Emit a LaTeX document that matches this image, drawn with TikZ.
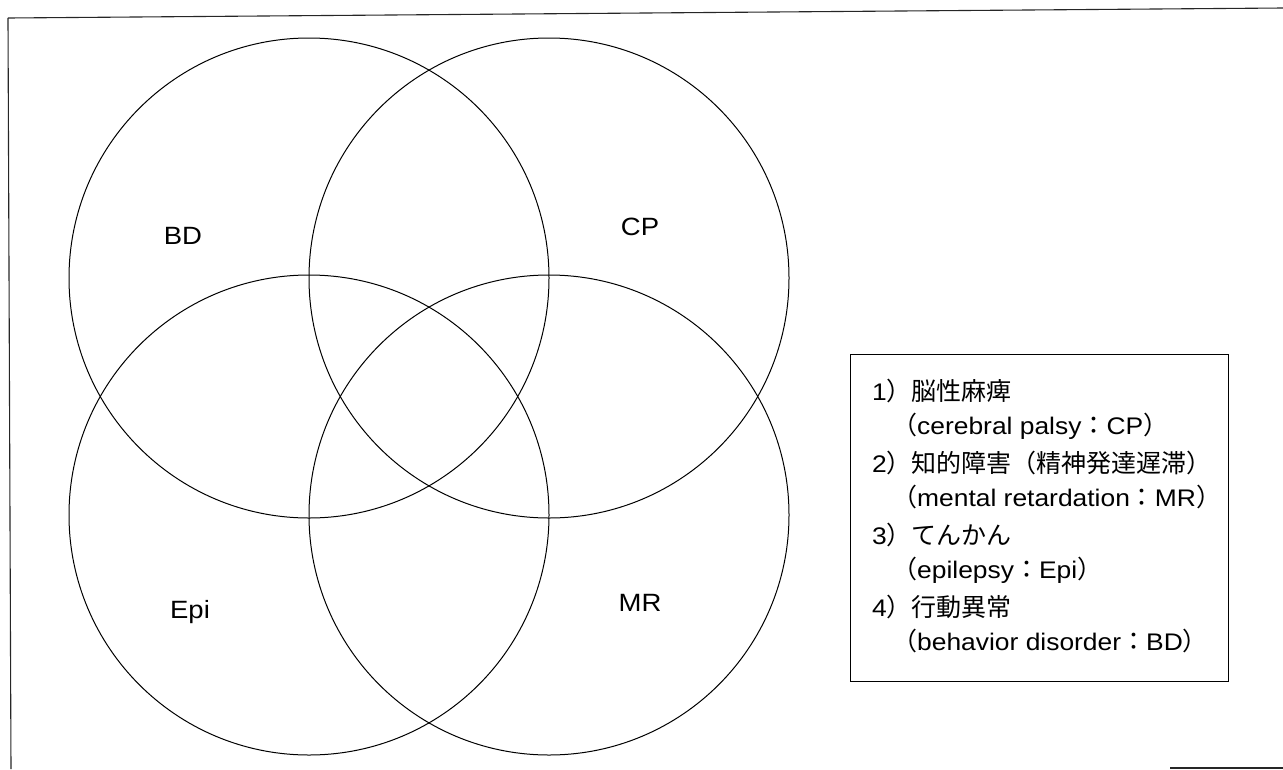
\documentclass[tikz,border=0pt]{standalone}
\usepackage{fontspec}
\setmainfont{Liberation Sans}[FakeStretch=1.1]
\newfontfamily\jp{Noto Sans CJK JP}
\begin{document}
\begin{tikzpicture}[x=1pt,y=-1pt,
  setc/.style={draw=black, line width=1pt, circle, minimum size=480pt, inner sep=0pt},
  setlabel/.style={font=\fontsize{25}{28}\selectfont},
  legtext/.style={anchor=base west, inner sep=0pt, font=\fontsize{24}{26}\selectfont},
  jpt/.style={font=\fontsize{25}{26}\selectfont\jp},
  frameline/.style={line width=1.1pt, draw=black!85}]
\useasboundingbox (0,0) rectangle (1283,769);
% frame
\coordinate (f1) at (8,18);
\coordinate (f2) at (1283,8);
\coordinate (f3) at (11,769);
\coordinate (f4) at (1170,768);
\coordinate (f5) at (1283,768);
\draw[frameline] (f1) -- (f2);
\draw[frameline] (f1) -- (f3);
\draw[frameline] (f4) -- (f5);
% circles
\node[setc] (bd) at (309,278) {};
\node[setc] (cp) at (549,278) {};
\node[setc] (epi) at (309,515) {};
\node[setc] (mr) at (549,515) {};
% labels
\node[setlabel] (lbd) at (183,236) {BD};
\node[setlabel] (lcp) at (640,227) {CP};
\node[setlabel] (lepi) at (190,612) {Epi};
\node[setlabel] (lmr) at (640,603) {MR};
% legend
\newcommand{\J}[1]{{\fontsize{25}{26}\selectfont\jp #1}}
\node[draw=black, line width=1pt, minimum width=378pt, minimum height=327pt, anchor=north west, inner sep=0pt] (legend) at (850,354) {};
\node[legtext] (l1a) at (872,400) {1\J{）脳性麻痺}};
\node[legtext] (l1b) at (892,434) {\J{（}cerebral palsy\J{：}CP\J{）}};
\node[legtext] (l2a) at (872,472) {2\J{）知的障害（精神発達遅滞）}};
\node[legtext] (l2b) at (892,506) {\J{（}mental retardation\J{：}MR\J{）}};
\node[legtext] (l3a) at (872,544) {3\J{）てんかん}};
\node[legtext] (l3b) at (892,578) {\J{（}epilepsy\J{：}Epi\J{）}};
\node[legtext] (l4a) at (872,616) {4\J{）行動異常}};
\node[legtext] (l4b) at (892,650) {\J{（}behavior disorder\J{：}BD\J{）}};
\end{tikzpicture}
\end{document}
